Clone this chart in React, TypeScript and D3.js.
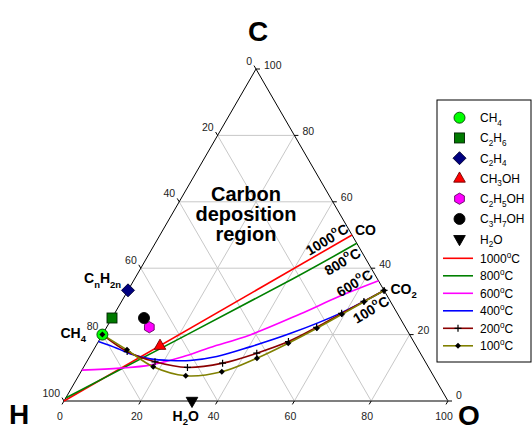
import React from "react";
import * as d3 from "d3";

// ---------- data ----------
const AXIS_TICKS = [0, 20, 40, 60, 80, 100];
const GRID_LEVELS = [20, 40, 60, 80];

// compounds (atom counts)
const compoundNames = ["CH_{4}", "C_{2}H_{6}", "C_{2}H_{4}", "CH_{3}OH", "C_{2}H_{5}OH", "C_{3}H_{7}OH", "H_{2}O"];
const compoundC = [1, 2, 2, 1, 2, 3, 0];
const compoundH = [4, 6, 4, 4, 6, 8, 2];
const compoundO = [0, 0, 0, 1, 1, 1, 1];

// boundary curves, points as [C %, O %]
const tempNames = ["1000^{o}C", "800^{o}C", "600^{o}C", "400^{o}C", "200^{o}C", "100^{o}C"];
const curve1000 = [[0, 0], [50, 50]];
const curve800 = [[0.9, 0], [36.9, 41.3], [47.5, 52.5]];
const curve600 = [[9.3, 0], [9.9, 9.7], [10.8, 17.0], [13.3, 24.3], [16.1, 30.0], [19.9, 38.5], [26.2, 48.4], [31.6, 56.1], [36.2, 63.8]];
const curve400 = [[17.9, 0], [15.9, 5.8], [13.9, 11.1], [12.7, 16.1], [12.2, 21.5], [12.2, 26.7], [13.4, 33.1], [16.3, 40.3], [20.3, 48.7], [26.4, 58.7], [33.3, 66.7]];
const curve200 = [[20, 0], [14.9, 9.0], [11.8, 17.8], [10.1, 27.1], [11.4, 35.6], [14.4, 43.0], [17.9, 49.5], [22.2, 54.7], [26.4, 59.1], [30.0, 63.1], [33.3, 66.7]];
const curve100 = [[20, 0], [15.4, 8.7], [10.3, 18.1], [7.6, 27.9], [8.8, 36.7], [12.9, 43.8], [17.4, 49.7], [21.9, 54.9], [26.1, 59.3], [29.9, 63.2], [33.3, 66.7]];
const curves = [curve1000, curve800, curve600, curve400, curve200, curve100];

// ---------- styles ----------
const compoundStyle = [
  { sym: "circle", fill: "#00ff00", stroke: "#004400" },
  { sym: "square", fill: "#007a00", stroke: "#002200" },
  { sym: "diamond", fill: "#000080", stroke: "#000030" },
  { sym: "triangle", fill: "#ff0000", stroke: "#700000" },
  { sym: "hexagon", fill: "#ff00ff", stroke: "#600060" },
  { sym: "circle", fill: "#000000", stroke: "#000000" },
  { sym: "triangleDown", fill: "#000000", stroke: "#000000" },
];
const curveStyle = [
  { color: "#ff0000", marker: "none" },
  { color: "#008000", marker: "none" },
  { color: "#ff00ff", marker: "none" },
  { color: "#0000ff", marker: "none" },
  { color: "#8b0000", marker: "plus" },
  { color: "#808000", marker: "dot" },
];

const FONT = "Arial, 'Liberation Sans', Helvetica, sans-serif";

// ---------- projection ----------
const xS = d3.scaleLinear().domain([0, 100]).range([64, 448]);
const yS = d3.scaleLinear().domain([0, 100]).range([401, 69]);
const P = (c: number, o: number): [number, number] => [xS(o + c / 2), yS(c)];

// ---------- rich text ----------
function parseRich(s: string) {
  const segs: { t: string; k: string }[] = [];
  const re = /(_\{[^}]*\}|\^\{[^}]*\})/g;
  let last = 0;
  let m: RegExpExecArray | null;
  while ((m = re.exec(s))) {
    if (m.index > last) segs.push({ t: s.slice(last, m.index), k: "n" });
    segs.push({ t: m[0].slice(2, -1), k: m[0][0] === "_" ? "sub" : "sup" });
    last = re.lastIndex;
  }
  if (last < s.length) segs.push({ t: s.slice(last), k: "n" });
  return segs;
}
function Rich({ s, fs }: { s: string; fs: number }) {
  const segs = parseRich(s);
  let cur = 0;
  return (
    <>
      {segs.map((sg, i) => {
        const target = sg.k === "sub" ? fs * 0.3 : sg.k === "sup" ? -fs * 0.42 : 0;
        const dy = target - cur;
        cur = target;
        return (
          <tspan key={i} dy={dy} fontSize={sg.k === "n" ? fs : fs * 0.68}>
            {sg.t}
          </tspan>
        );
      })}
    </>
  );
}

// ---------- symbols ----------
function Sym({ kind, x, y, fill, stroke }: any) {
  const sw = 0.9;
  switch (kind) {
    case "circle":
      return <circle cx={x} cy={y} r={5.5} fill={fill} stroke={stroke} strokeWidth={sw} />;
    case "square":
      return <rect x={x - 5} y={y - 5} width={10} height={10} fill={fill} stroke={stroke} strokeWidth={sw} />;
    case "diamond":
      return <path d={`M${x},${y - 6.5}L${x + 6.5},${y}L${x},${y + 6.5}L${x - 6.5},${y}Z`} fill={fill} stroke={stroke} strokeWidth={sw} />;
    case "triangle":
      return <path d={`M${x},${y - 6.5}L${x + 5.8},${y + 3.7}L${x - 5.8},${y + 3.7}Z`} fill={fill} stroke={stroke} strokeWidth={sw} />;
    case "triangleDown":
      return <path d={`M${x},${y + 6.5}L${x + 5.8},${y - 3.7}L${x - 5.8},${y - 3.7}Z`} fill={fill} stroke={stroke} strokeWidth={sw} />;
    case "hexagon": {
      const pts = d3.range(6).map((k) => {
        const a = ((-90 + 60 * k) * Math.PI) / 180;
        return [x + 5.6 * Math.cos(a), y + 5.6 * Math.sin(a)];
      });
      return <path d={"M" + pts.map((p) => p.join(",")).join("L") + "Z"} fill={fill} stroke={stroke} strokeWidth={sw} />;
    }
  }
  return null;
}
function CurveMarker({ kind, x, y }: any) {
  if (kind === "plus")
    return <path d={`M${x - 3.5},${y}H${x + 3.5}M${x},${y - 3.5}V${y + 3.5}`} stroke="#000" strokeWidth={1.2} />;
  if (kind === "dot")
    return <path d={`M${x},${y - 3}L${x + 3},${y}L${x},${y + 3}L${x - 3},${y}Z`} fill="#000" />;
  return null;
}

export default function App() {
  const line = d3
    .line<[number, number]>()
    .x((d) => d[0])
    .y((d) => d[1])
    .curve(d3.curveCatmullRom.alpha(0.5));

  const grid: [number, number][][] = [];
  GRID_LEVELS.forEach((v) => {
    grid.push([P(v, 0), P(v, 100 - v)]); // constant C
    grid.push([P(0, v), P(100 - v, v)]); // constant O
    grid.push([P(0, 100 - v), P(100 - v, 0)]); // constant H
  });

  const Hv = P(0, 0);
  const Cv = P(100, 0);
  const Ov = P(0, 100);

  const compPts = compoundNames.map((_, i) => {
    const tot = compoundC[i] + compoundH[i] + compoundO[i];
    return P((100 * compoundC[i]) / tot, (100 * compoundO[i]) / tot);
  });

  const co = P(50, 50);
  const co2 = P(100 / 3, 200 / 3);
  const ch4 = compPts[0];
  const h2o = compPts[6];
  const c2h4 = compPts[2];

  const tempAnno = [
    { s: "1000^{o}C", x: 327, y: 239.5 },
    { s: "800^{o}C", x: 342.5, y: 261.5 },
    { s: "600^{o}C", x: 354.5, y: 283 },
    { s: "100^{o}C", x: 371, y: 309.5 },
  ];

  const legX = 437, legY = 100, legW = 94, legH = 262;

  return (
    <svg
      width={532}
      height={430}
      style={{ position: "absolute", left: 0, top: 0, display: "block" }}
      fontFamily={FONT}
    >
      <rect width={532} height={430} fill="#fff" />
      {/* grid */}
      {grid.map((g, i) => (
        <line key={i} x1={g[0][0]} y1={g[0][1]} x2={g[1][0]} y2={g[1][1]} stroke="#c8c8c8" strokeWidth={1} />
      ))}
      {/* edges */}
      <line x1={Hv[0]} y1={Hv[1]} x2={Cv[0]} y2={Cv[1]} stroke="#000" strokeWidth={1} />
      <line x1={Cv[0]} y1={Cv[1]} x2={Ov[0]} y2={Ov[1]} stroke="#000" strokeWidth={1} />
      <line x1={Hv[0]} y1={Hv[1]} x2={Ov[0]} y2={Ov[1]} stroke="#555" strokeWidth={1.3} />

      {/* ticks & labels */}
      {AXIS_TICKS.map((t) => {
        const [lx, ly] = P(100 - t, 0); // left axis (H)
        const [bx, by] = P(0, t); // bottom axis (O)
        const [rx, ry] = P(t, 100 - t); // right axis (C)
        return (
          <g key={t} fontSize={10.5} fill="#222">
            <line x1={lx} y1={ly} x2={lx - 2} y2={ly - 3.4} stroke="#000" />
            <text x={lx - 4} y={ly - 4.5} textAnchor="end">{t}</text>
            <line x1={bx} y1={by} x2={bx - 2} y2={by + 3.4} stroke="#000" />
            <text x={bx - 4} y={by + 18.5} textAnchor="middle">{t}</text>
            <line x1={rx} y1={ry} x2={rx + 4} y2={ry} stroke="#000" />
            <text x={rx + 8} y={ry - (t === 0 ? 2 : 0.5)} textAnchor="start">{t}</text>
          </g>
        );
      })}

      {/* vertex labels */}
      <g fontWeight="bold" fontSize={28} fill="#000">
        <text x={Cv[0] + 2} y={41} textAnchor="middle">C</text>
        <text x={19} y={424} textAnchor="middle">H</text>
        <text x={469} y={425} textAnchor="middle">O</text>
      </g>

      {/* region text */}
      <g fontWeight="bold" fontSize={20} textAnchor="middle" fill="#000">
        <text x={246} y={201}>Carbon</text>
        <text x={246} y={221}>deposition</text>
        <text x={246} y={241}>region</text>
      </g>

      {/* curves */}
      {curves.map((c, i) => {
        const pts = c.map((d) => P(d[0], d[1]));
        return (
          <g key={i}>
            <path d={line(pts) || ""} fill="none" stroke={curveStyle[i].color} strokeWidth={1.6} />
            {pts.map((p, j) => (
              <CurveMarker key={j} kind={curveStyle[i].marker} x={p[0]} y={p[1]} />
            ))}
          </g>
        );
      })}

      {/* compounds */}
      {compPts.map((p, i) => (
        <Sym key={i} kind={compoundStyle[i].sym} x={p[0]} y={p[1]} fill={compoundStyle[i].fill} stroke={compoundStyle[i].stroke} />
      ))}
      {/* CH4 inner dot from 100C curve start */}
      <CurveMarker kind="dot" x={ch4[0]} y={ch4[1]} />

      {/* annotation labels */}
      <g fontWeight="bold" fontSize={14} fill="#000">
        <text x={ch4[0] - 42} y={ch4[1] + 3}><Rich s="CH_{4}" fs={14} /></text>
        <text x={c2h4[0] - 44} y={c2h4[1] - 7}><Rich s="C_{n}H_{2n}" fs={14} /></text>
        <text x={h2o[0] - 19.5} y={h2o[1] + 19.5}><Rich s="H_{2}O" fs={14} /></text>
        <text x={co[0] + 3} y={co[1]}><Rich s="CO" fs={14} /></text>
        <text x={co2[0] + 6.5} y={co2[1] + 3.5}><Rich s="CO_{2}" fs={14} /></text>
      </g>
      <g fontWeight="bold" fontSize={14} fill="#000">
        {tempAnno.map((a, i) => (
          <text key={i} x={a.x} y={a.y} textAnchor="middle" dominantBaseline="central" transform={`rotate(-31 ${a.x} ${a.y})`}>
            <Rich s={a.s} fs={14} />
          </text>
        ))}
      </g>

      {/* legend */}
      <rect x={legX} y={legY} width={legW} height={legH} fill="#fff" stroke="#000" strokeWidth={1} />
      {compoundNames.map((n, i) => {
        const y = 117.7 + i * 20.25;
        return (
          <g key={n}>
            <Sym kind={compoundStyle[i].sym} x={459.5} y={y} fill={compoundStyle[i].fill} stroke={compoundStyle[i].stroke} />
            <text x={480} y={y + 4.3} fontSize={12} fill="#000"><Rich s={n} fs={12} /></text>
          </g>
        );
      })}
      {tempNames.map((n, i) => {
        const y = 258.3 + i * 17.5;
        return (
          <g key={n}>
            <line x1={443} y1={y} x2={473} y2={y} stroke={curveStyle[i].color} strokeWidth={1.6} />
            <CurveMarker kind={curveStyle[i].marker} x={458} y={y} />
            <text x={480} y={y + 4.3} fontSize={12} fill="#000"><Rich s={n} fs={12} /></text>
          </g>
        );
      })}
    </svg>
  );
}
